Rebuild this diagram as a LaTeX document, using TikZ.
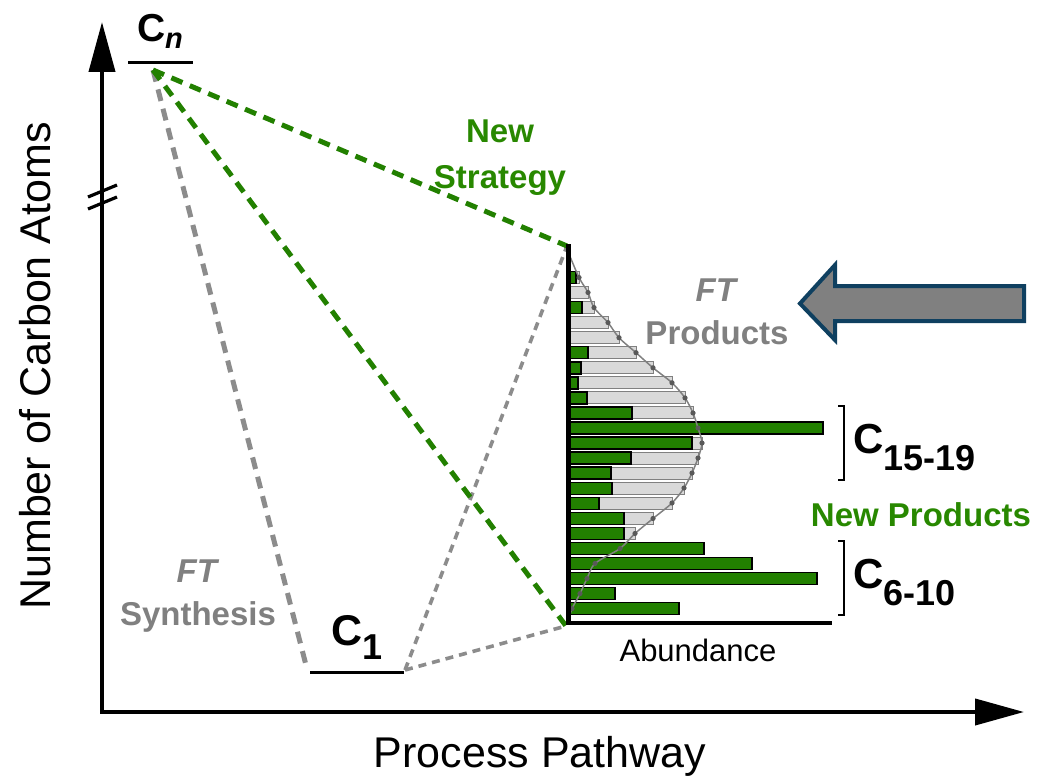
\documentclass[tikz,border=0pt]{standalone}
\usepackage{fontspec}
\setmainfont{Liberation Sans}
\usetikzlibrary{arrows.meta}
\definecolor{ngreen}{RGB}{34,128,0}
\definecolor{tgreen}{RGB}{40,136,0}
\definecolor{lgray}{RGB}{140,140,140}
\definecolor{tgray}{RGB}{128,128,128}
\definecolor{bargray}{RGB}{217,217,217}
\definecolor{arrowblue}{RGB}{15,64,96}
\tikzset{
  axisline/.style={line width=4pt},
  greendash/.style={ngreen,line width=5pt,dash pattern=on 12pt off 8pt},
  graydash/.style={lgray,line width=5pt,dash pattern=on 12pt off 8pt},
  graythin/.style={lgray,line width=3.6pt,dash pattern=on 8pt off 6pt},
  graybar/.style={fill=bargray,draw=tgray,line width=1pt},
  greenbar/.style={fill=ngreen,draw=black,line width=1.4pt},
  lbl/.style={inner sep=0pt,font=\bfseries,align=center},
}
\begin{document}
\begin{tikzpicture}[x=1pt,y=-1pt]
\useasboundingbox (0,0) rectangle (1038,781);
% coordinates
\coordinate (origin) at (102,712);
\coordinate (ytip) at (102,22);
\coordinate (xtip) at (1024,712);
\coordinate (cn) at (153,70);
\coordinate (c1L) at (307,669);
\coordinate (c1R) at (405,670);
\coordinate (htop) at (567,246);
\coordinate (hbot) at (566,626);
% axes
\draw[axisline,-{Triangle[length=50pt,width=26pt]}] (origin) -- (ytip);
\draw[axisline,-{Triangle[length=49pt,width=26pt]}] ([xshift=-2pt]origin) -- (xtip);
% axis break
\draw[line width=3.2pt] (88,197) -- (117,185);
\draw[line width=3.2pt] (88,209) -- (117,197);
% axis labels
\node[inner sep=0pt,rotate=90,font=\fontsize{43}{50}\selectfont] (ylab) at (35,366) {Number of Carbon Atoms};
\node[inner sep=0pt,font=\fontsize{43}{50}\selectfont,anchor=base] (xlab) at (540,767) {Process Pathway};
% dashed pathways
\draw[graydash] (cn) -- (c1L);
\draw[graythin] (c1R) -- (htop);
\draw[graythin] (c1R) -- (hbot);
\draw[greendash] (cn) -- (htop);
\draw[greendash] (cn) -- (hbot);
% level lines
\draw[line width=3pt] (128,63) -- (193,63);
\draw[line width=3pt] (310,672) -- (404,672);
\node[lbl,font=\fontsize{39}{40}\selectfont\bfseries,anchor=base] (cnlab) at (160,42) {C\raisebox{-7pt}{\fontsize{29}{30}\selectfont\bfseries\itshape n}};
\node[lbl,font=\fontsize{43}{45}\selectfont\bfseries,anchor=base] (c1lab) at (357,645) {C\raisebox{-14pt}{\fontsize{36}{38}\selectfont\bfseries 1}};
% histogram bars
\foreach \g [count=\i] in {11,20,26,40,51,68,85,104,117,125,130,134,130,124,116,104,85,67,52,27,19,12,4}{
  \pgfmathsetmacro{\yc}{277.5+15.05*(\i-1)}
  \path[graybar] (568,\yc-6) rectangle (568+\g,\yc+6);
}
\foreach \gr [count=\i] in {8,0,14,0,0,20,13,10,19,64,255,124,63,43,44,31,56,56,136,184,249,47,111}{
  \pgfmathsetmacro{\yc}{277.5+15.05*(\i-1)}
  \ifnum\gr>0
  \path[greenbar] (568,\yc-6) rectangle (568+\gr,\yc+6);
  \fi
}
% distribution curve
\draw[tgray,line width=1.5pt] plot[smooth,tension=0.5] coordinates {(569,254) (579,277.5) (588,292.5) (594,307.6) (608,322.6) (619,337.7) (636,352.7) (653,367.8) (672,382.8) (685,397.9) (693,413) (698,428) (702,443) (698,458) (692,473) (684,488) (672,503) (653,518.5) (635,533.5) (620,548.5) (595,563.5) (587,578.6) (580,593.6) (572,608.6) (569,618)};
\foreach \xx/\yy in {579/277.5,588/292.5,594/307.6,608/322.6,619/337.7,636/352.7,653/367.8,672/382.8,685/397.9,693/413,698/428,702/443,698/458,692/473,684/488,672/503,653/518.5,635/533.5,620/548.5,595/563.5,587/578.6,580/593.6,572/608.6}
  \fill[black!65] (\xx,\yy) circle (2.6pt);
% histogram axes
\draw[line width=5pt] (568,244) -- (568,625);
\draw[line width=4pt] (566,623) -- (832,623);
\node[inner sep=0pt,font=\fontsize{31}{34}\selectfont] (abund) at (698,650) {Abundance};
% brackets
\draw[line width=2.2pt] (838,406) -- (844,406) -- (844,480) -- (838,480);
\draw[line width=2.2pt] (838,541) -- (844,541) -- (844,615) -- (838,615);
\node[lbl,font=\fontsize{42}{45}\selectfont\bfseries,anchor=base west] (c1519) at (853,453) {C\raisebox{-17pt}{\fontsize{36}{38}\selectfont\bfseries 15-19}};
\node[lbl,font=\fontsize{42}{45}\selectfont\bfseries,anchor=base west] (c610) at (853,588) {C\raisebox{-17pt}{\fontsize{36}{38}\selectfont\bfseries 6-10}};
% text labels
\node[lbl,text=tgreen,font=\fontsize{33}{46}\selectfont\bfseries] (newstrat) at (500,158) {New\\Strategy};
\node[lbl,text=tgreen,font=\fontsize{33}{36}\selectfont\bfseries] (newprod) at (921,515) {New Products};
\node[lbl,text=tgray,font=\fontsize{33}{43}\selectfont\bfseries] (ftprod) at (717,312) {\textit{FT}\\Products};
\node[lbl,text=tgray,font=\fontsize{33}{43}\selectfont\bfseries] (ftsyn) at (198,596) {\textit{FT}\\Synthesis};
% big arrow
\draw[fill=tgray,draw=arrowblue,line width=4pt,line join=miter] (1024,286) -- (835,286) -- (835,265) -- (800,303.5) -- (835,340) -- (835,321) -- (1024,321) -- cycle;
\end{tikzpicture}
\end{document}
